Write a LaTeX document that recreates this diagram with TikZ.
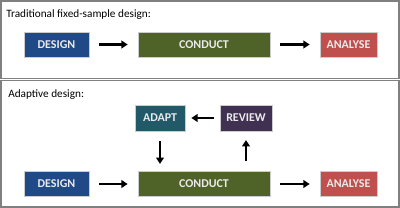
\documentclass[tikz,border=0pt]{standalone}
\usepackage{fontspec}
\setmainfont{Carlito}
\usetikzlibrary{arrows.meta}
\definecolor{designblue}{RGB}{31,74,135}
\definecolor{conductgreen}{RGB}{79,98,40}
\definecolor{analysered}{RGB}{192,80,77}
\definecolor{adaptteal}{RGB}{33,89,104}
\definecolor{reviewpurple}{RGB}{64,49,82}

\begin{document}
\begin{tikzpicture}[x=0.025cm, y=-0.025cm]
    \tikzset{StageStyle/.style={draw=gray!40, line width=0.4pt, text=white!92!black,
            font=\fontsize{8.5}{10}\selectfont\bfseries, minimum height=0.63cm, inner sep=0pt},
        FlowStyle/.style={-{Triangle[length=4.5pt,width=5.5pt]}, line width=1.7pt,
            shorten <=0.25cm, shorten >=0.25cm},
        TitleStyle/.style={anchor=west, font=\fontsize{8}{9.5}\selectfont, inner sep=0pt}}
    \useasboundingbox (0,0) rectangle (400,208);
    % frames
    \draw[gray, line width=0.8pt] (1,1) rectangle (399,78.5);
    \draw[gray, line width=0.8pt] (1,80.5) rectangle (399,207);
    \node[TitleStyle] (tradtitle) at (6,15) {Traditional fixed-sample design:};
    \node[TitleStyle] (adapttitle) at (8,95) {Adaptive design:};
    % traditional
    \node[StageStyle, fill=designblue, minimum width=1.625cm] (Design) at (56.5,44.5) {DESIGN};
    \node[StageStyle, fill=conductgreen, minimum width=3.3cm] (Conduct) at (204,44.5) {CONDUCT};
    \node[StageStyle, fill=analysered, minimum width=1.425cm] (Analyse) at (348.5,44.5) {ANALYSE};
    \draw[FlowStyle] (Design) -- (Conduct);
    \draw[FlowStyle] (Conduct) -- (Analyse);
    % adaptive
    \node[StageStyle, fill=designblue, minimum width=1.625cm] (DesignA) at (56.5,184) {DESIGN};
    \node[StageStyle, fill=conductgreen, minimum width=3.3cm] (ConductA) at (204,184) {CONDUCT};
    \node[StageStyle, fill=analysered, minimum width=1.425cm] (AnalyseA) at (348.5,184) {ANALYSE};
    \node[StageStyle, fill=adaptteal, minimum width=1.25cm, minimum height=0.65cm] (Adapt) at (160,118) {ADAPT};
    \node[StageStyle, fill=reviewpurple, minimum width=1.3cm, minimum height=0.65cm] (Review) at (246,118) {REVIEW};
    \draw[FlowStyle] (DesignA) -- (ConductA);
    \draw[FlowStyle] (ConductA) -- (AnalyseA);
    \draw[FlowStyle, shorten <=0.15cm, shorten >=0.15cm] (Review) -- (Adapt);
    \draw[FlowStyle, shorten >=0.18cm] (Adapt.south) -- (Adapt.south |- ConductA.north);
    \draw[FlowStyle, shorten >=0.22cm] (Review.south |- ConductA.north) -- (Review.south);
\end{tikzpicture}
\end{document}
